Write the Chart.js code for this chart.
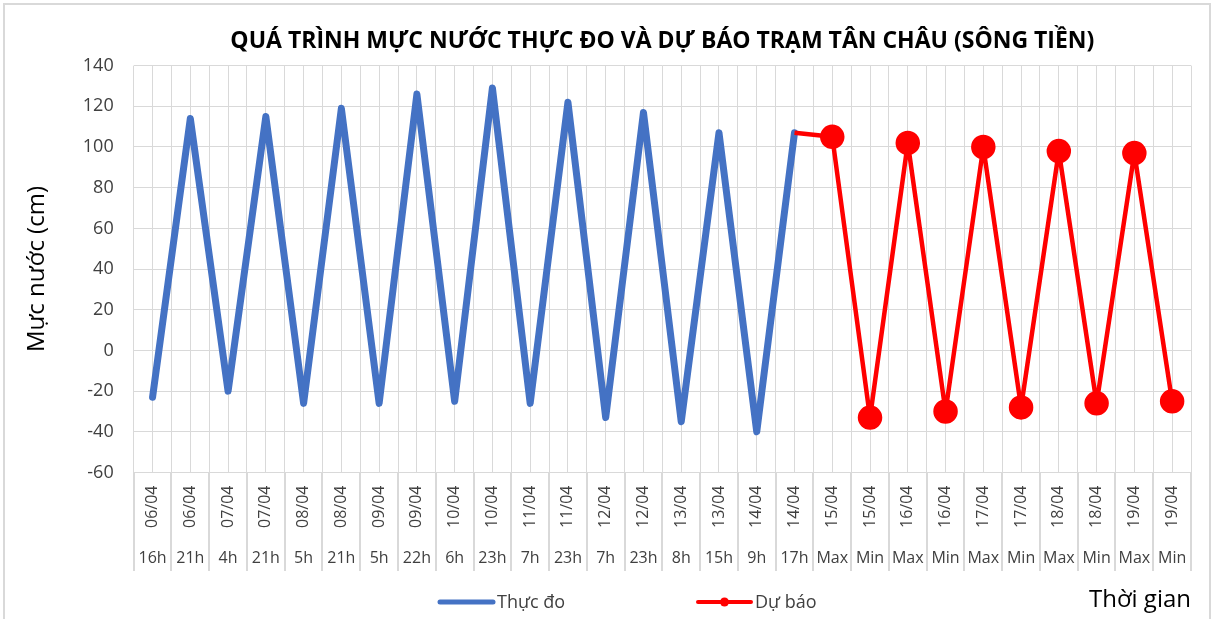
<!DOCTYPE html>
<html>
<head>
<meta charset="utf-8">
<script src="https://cdn.jsdelivr.net/npm/chart.js@4.4.1/dist/chart.umd.min.js"></script>
<style>
  html, body { margin: 0; padding: 0; background: #fff; }
  .khung { position: absolute; left: 3px; top: 3px; width: 1208px; height: 640px; border: 2px solid #d9d9d9; box-sizing: border-box; }
  .chartContainer { position: absolute; left: 0; top: 0; width: 1213px; height: 619px; }
</style>
</head>
<body>
<div class="khung"></div>
<div class="chartContainer"><canvas id="mucNuocChart"></canvas></div>
<script>
// nhan truc hoanh: ngay (xoay doc) va gio / Max / Min
const ngay = ['06/04', '06/04', '07/04', '07/04', '08/04', '08/04', '09/04', '09/04', '10/04', '10/04',
              '11/04', '11/04', '12/04', '12/04', '13/04', '13/04', '14/04', '14/04',
              '15/04', '15/04', '16/04', '16/04', '17/04', '17/04', '18/04', '18/04', '19/04', '19/04'];
const gio = ['16h', '21h', '4h', '21h', '5h', '21h', '5h', '22h', '6h', '23h',
             '7h', '23h', '7h', '23h', '8h', '15h', '9h', '17h',
             'Max', 'Min', 'Max', 'Min', 'Max', 'Min', 'Max', 'Min', 'Max', 'Min'];

// muc nuoc (cm)
const thucDo = [-23, 114, -20, 115, -26, 119, -26, 126, -25, 129, -26, 122, -33, 117, -35, 107, -40, 107];
const duBao = [null, null, null, null, null, null, null, null, null, null,
               null, null, null, null, null, null, null, 107,
               105, -33, 102, -30, 100, -28, 98, -26, 97, -25];

const yMin = -60, yMax = 140, yStep = 20;

Chart.defaults.font.family = '"Open Sans", "Noto Sans", sans-serif';

// vach ngan giua cac o nhan (kieu truc nhieu cap cua Excel)
const vachNgan = {
    id: 'vachNgan',
    afterDraw(chart, args, opts) {
        const x = chart.scales.x, x2 = chart.scales.x2;
        const ctx = chart.ctx;
        const yEnd = x2.top + x2.options.ticks.padding + opts.extra;
        ctx.save();
        ctx.strokeStyle = opts.color;
        ctx.lineWidth = opts.width;
        for (let i = 0; i <= ngay.length; i++) {
            const px = Math.round(x.getPixelForValue(i - 0.5));
            ctx.beginPath();
            ctx.moveTo(px, chart.chartArea.bottom);
            ctx.lineTo(px, yEnd);
            ctx.stroke();
        }
        ctx.restore();
    }
};

// chu thich ve tay (Excel dat 2 muc cach xa nhau)
const chuThich = {
    id: 'chuThich',
    afterDraw(chart, args, opts) {
        const ctx = chart.ctx;
        ctx.save();
        ctx.font = '18px "Open Sans"';
        ctx.textBaseline = 'middle';
        opts.items.forEach(it => {
            const ds = chart.data.datasets[it.dataset];
            ctx.strokeStyle = ds.borderColor;
            ctx.lineWidth = it.lineWidth;
            ctx.lineCap = 'round';
            ctx.beginPath();
            ctx.moveTo(it.x, opts.y);
            ctx.lineTo(it.x + opts.lineLength, opts.y);
            ctx.stroke();
            if (it.marker) {
                ctx.fillStyle = ds.borderColor;
                ctx.beginPath();
                ctx.arc(it.x + opts.lineLength / 2, opts.y, it.marker, 0, Math.PI * 2);
                ctx.fill();
            }
            ctx.fillStyle = '#404040';
            ctx.fillText(ds.label, it.x + opts.lineLength + 4, opts.y + 1);
        });
        ctx.restore();
    }
};

const mucNuocChart = new Chart(document.getElementById('mucNuocChart'), {
    type: 'line',
    data: {
        labels: ngay,
        datasets: [{
            label: 'Thực đo',
            data: thucDo,
            borderColor: '#4472C4',
            borderWidth: 7,
            borderJoinStyle: 'round',
            borderCapStyle: 'round',
            pointRadius: 0,
            tension: 0,
            order: 2
        }, {
            label: 'Dự báo',
            data: duBao,
            borderColor: '#FF0000',
            backgroundColor: '#FF0000',
            borderWidth: 4.5,
            borderJoinStyle: 'round',
            pointRadius: ctx => ctx.dataIndex === 17 ? 0 : 10,
            pointBackgroundColor: '#FF0000',
            pointBorderColor: '#FF0000',
            tension: 0,
            order: 1
        }]
    },
    options: {
        responsive: true,
        maintainAspectRatio: false,
        animation: false,
        layout: { padding: { top: 8, left: 8, right: 22, bottom: 4 } },
        scales: {
            y: {
                min: yMin,
                max: yMax,
                ticks: { stepSize: yStep, padding: 20, color: '#404040', font: { size: 18 } },
                grid: { color: '#d9d9d9', drawTicks: false },
                border: { display: false },
                title: {
                    display: true,
                    text: 'Mực nước (cm)',
                    color: '#000',
                    font: { size: 24 },
                    padding: { top: 15, bottom: 11 }
                }
            },
            x: {
                weight: 0,
                offset: true,
                grid: { offset: true, color: '#d9d9d9', drawTicks: false },
                border: { color: '#d9d9d9' },
                ticks: { autoSkip: false, minRotation: 90, maxRotation: 90, padding: 13, color: '#404040', font: { size: 16 } }
            },
            x2: {
                type: 'category',
                labels: gio,
                position: 'bottom',
                weight: 1,
                offset: true,
                grid: { offset: false, color: '#d9d9d9', drawTicks: false },
                border: { display: false },
                ticks: { autoSkip: false, maxRotation: 0, padding: 8, color: '#404040', font: { size: 16 } },
                title: {
                    display: true,
                    text: 'Thời gian',
                    align: 'end',
                    color: '#000',
                    font: { size: 24 },
                    padding: { top: 10, bottom: 0 }
                }
            }
        },
        plugins: {
            legend: { display: false },
            tooltip: { enabled: false },
            title: {
                display: true,
                fullSize: false,
                text: 'QUÁ TRÌNH MỰC NƯỚC THỰC ĐO VÀ DỰ BÁO TRẠM TÂN CHÂU (SÔNG TIỀN)',
                color: '#000',
                font: { size: 23, weight: 'bold' },
                padding: { top: 20, bottom: 10 }
            },
            vachNgan: { color: '#d9d9d9', width: 2, extra: 22 },
            chuThich: {
                y: 602,
                lineLength: 53,
                items: [
                    { dataset: 0, x: 440, lineWidth: 5 },
                    { dataset: 1, x: 698, lineWidth: 4, marker: 4.5 }
                ]
            }
        }
    },
    plugins: [vachNgan, chuThich]
});
</script>
</body>
</html>
